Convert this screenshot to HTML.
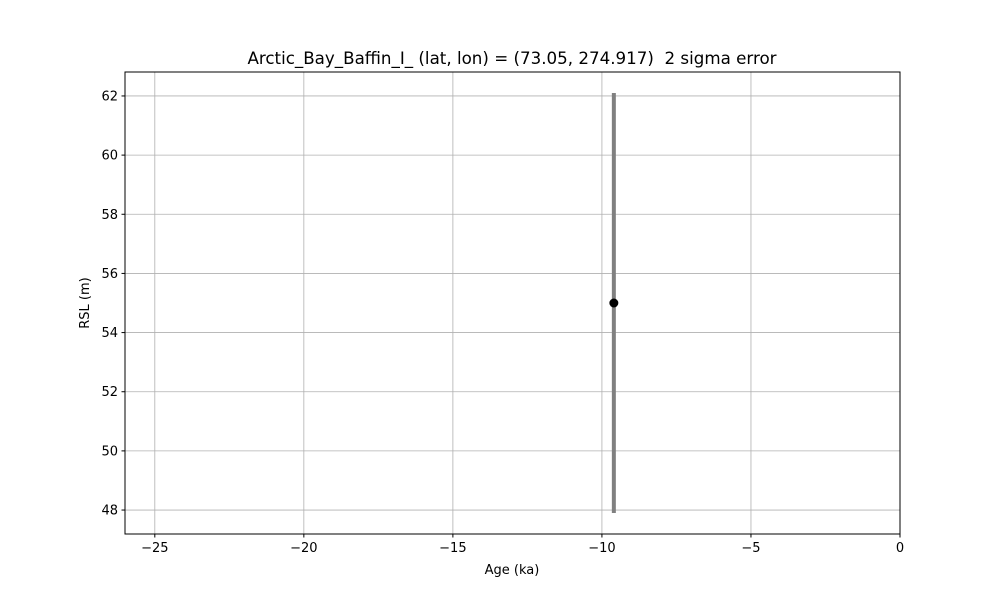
<!DOCTYPE html>
<html><head><meta charset="utf-8"><style>
body{margin:0;background:#fff}
svg text{font-family:"DejaVu Sans","Liberation Sans",sans-serif;fill:#000;white-space:pre}
</style></head><body>
<svg id="chart" width="1000" height="600" xmlns="http://www.w3.org/2000/svg">
<rect width="1000" height="600" fill="#fff"/>
<text x="512" y="64" font-size="16.7" text-anchor="middle" xml:space="preserve">Arctic_Bay_Baffin_I_ (lat, lon) = (73.05, 274.917)  2 sigma error</text>
<g id="grid"></g>
<g id="marks"></g>
<rect x="125" y="72" width="775" height="462" fill="none" stroke="#000" stroke-width="1"/>
<g id="ticks"></g>
<text x="512" y="574" font-size="13" text-anchor="middle">Age (ka)</text>
<text x="89" y="303" font-size="13" text-anchor="middle" transform="rotate(-90 89 303)">RSL (m)</text>
</svg>
<script>
const ages=[-9.6];
const rsl=[55];
const errs=[7.1];
const xTicks=[-25,-20,-15,-10,-5,0];
const yTicks=[48,50,52,54,56,58,60,62];
const NS="http://www.w3.org/2000/svg";
const L=125,R=900,T=72,B=534;
const xmin=-26.0,xmax=0,ymin=47.19,ymax=62.81;
const xs=v=>L+(v-xmin)/(xmax-xmin)*(R-L);
const ys=v=>B-(v-ymin)/(ymax-ymin)*(B-T);
function mk(tag,attrs,parent){const e=document.createElementNS(NS,tag);for(const k in attrs)e.setAttribute(k,attrs[k]);document.getElementById(parent).appendChild(e);return e;}
xTicks.forEach(t=>{
 const x=xs(t);
 const g=mk('line',{x1:x,x2:x,y1:T,y2:B,stroke:'#b0b0b0','stroke-width':0.8},'grid');
 
 
 mk('line',{x1:x,x2:x,y1:B,y2:B+3.5,stroke:'#000'},'ticks');
 const tx=mk('text',{x:x,y:B+18,'font-size':13,'text-anchor':'middle'},'ticks');
 tx.textContent=(t<0?'\u2212'+(-t):t);
 
 
});
yTicks.forEach(t=>{
 const y=ys(t);
 const g=mk('line',{x1:L,x2:R,y1:y,y2:y,stroke:'#b0b0b0','stroke-width':0.8},'grid');
 
 
 mk('line',{x1:L-3.5,x2:L,y1:y,y2:y,stroke:'#000'},'ticks');
 const tx=mk('text',{x:L-7,y:y+4.5,'font-size':13,'text-anchor':'end'},'ticks');
 tx.textContent=t;
 
 
});
ages.forEach((a,i)=>{
 const x=xs(a);
 const eb=mk('line',{x1:x,x2:x,y1:ys(rsl[i]-errs[i]),y2:ys(rsl[i]+errs[i]),stroke:'#808080','stroke-width':4},'marks');
 
 
 const c=mk('circle',{cx:x,cy:ys(rsl[i]),r:4.5,fill:'#000'},'marks');
 
 
});
</script>
</body></html>
